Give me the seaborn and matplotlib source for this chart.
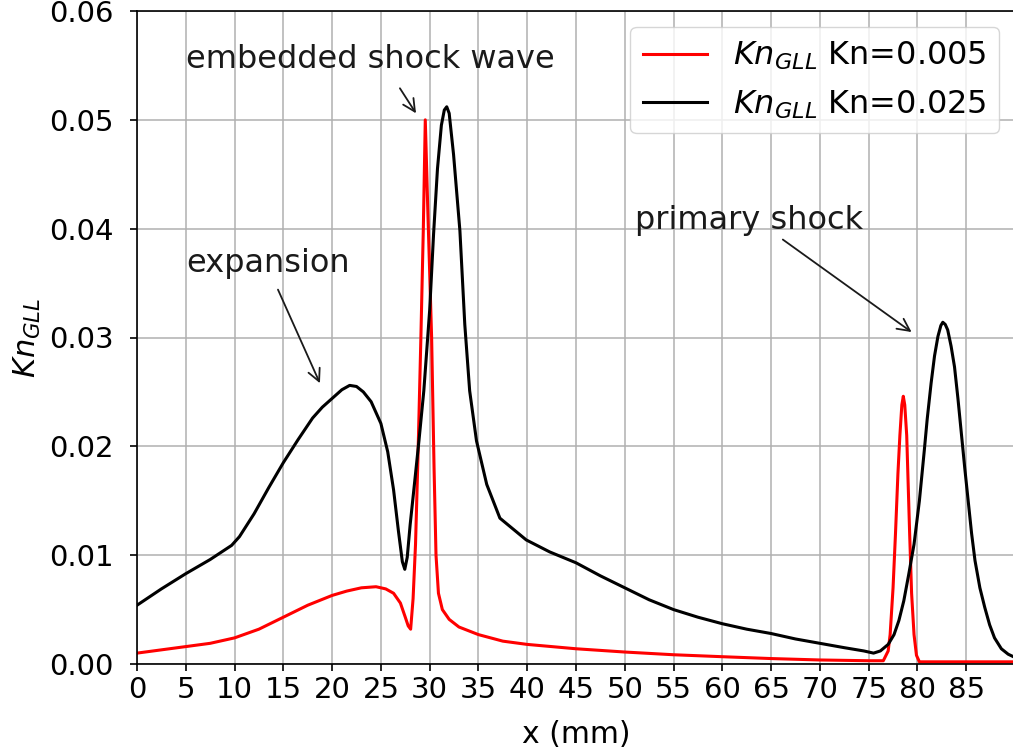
import matplotlib
matplotlib.use("Agg")
import matplotlib.pyplot as plt
import seaborn as sns
import pandas as pd

# ---- data ----
x_kn005 = [0, 2.5, 5, 7.5, 10, 12.5, 15, 17.5, 20, 21.5, 23, 24.5, 25.5, 26.3, 27, 27.5,
           27.8, 28.05, 28.3, 28.55, 28.8, 29.1, 29.35, 29.55, 29.8, 30.2, 30.45, 30.65,
           30.9, 31.3, 32.0, 33.0, 35, 37.5, 40, 45, 50, 55, 60, 65, 70, 75, 76.5, 77.0,
           77.2, 77.5, 77.75, 78.0, 78.2, 78.4, 78.55, 78.7, 78.9, 79.05, 79.2, 79.4,
           79.65, 79.9, 80.2, 85, 90]
y_kn005 = [0.0010, 0.0013, 0.0016, 0.0019, 0.0024, 0.0032, 0.0043, 0.0054, 0.0063, 0.0067,
           0.0070, 0.0071, 0.0069, 0.0065, 0.0056, 0.0043, 0.0035, 0.0032, 0.0060, 0.0110,
           0.0190, 0.0300, 0.0400, 0.0500, 0.0420, 0.0300, 0.0180, 0.0100, 0.0065, 0.0050,
           0.0041, 0.0034, 0.0027, 0.0021, 0.0018, 0.0014, 0.0011, 0.00085, 0.00067, 0.0005,
           0.00037, 0.0003, 0.0003, 0.0012, 0.0027, 0.0070, 0.0120, 0.0175, 0.0210, 0.0238,
           0.0246, 0.0238, 0.0210, 0.0165, 0.0120, 0.0065, 0.0027, 0.0008, 0.0002, 0.0002,
           0.0002]

x_kn025 = [0, 2.5, 5, 7.5, 9.7, 10.5, 12, 13.5, 15, 16.5, 18, 19, 20, 21, 21.8, 22.5, 23.2,
           24, 25, 25.7, 26.3, 26.8, 27.2, 27.45, 27.7, 28, 28.4, 28.9, 29.4, 30, 30.4, 30.8,
           31.2, 31.5, 31.75, 32.0, 32.45, 33.1, 33.6, 34.1, 34.8, 35.85, 37.2, 39.9, 42.3,
           45, 47.5, 50, 52.5, 55, 57.5, 60, 62.5, 65, 67.5, 70, 72.5, 74.5, 75.5, 76.2, 77,
           77.6, 78.1, 78.6, 79.1, 79.65, 80.2, 80.7, 81.0, 81.4, 81.75, 82.1, 82.4, 82.6,
           82.85, 83.1, 83.45, 83.8, 84.15, 84.5, 84.85, 85.2, 85.55, 85.9, 86.4, 86.9, 87.4,
           87.9, 88.6, 89.3, 90]
y_kn025 = [0.0054, 0.0069, 0.0083, 0.0096, 0.0109, 0.0117, 0.0138, 0.0162, 0.0185, 0.0206,
           0.0226, 0.0236, 0.0244, 0.0252, 0.0256, 0.0255, 0.0250, 0.0241, 0.0221, 0.0195,
           0.0160, 0.0122, 0.0094, 0.0087, 0.0098, 0.0128, 0.0162, 0.0205, 0.0251, 0.0325,
           0.0395, 0.0455, 0.0495, 0.0509, 0.0512, 0.0506, 0.0468, 0.0398, 0.0312, 0.0251,
           0.0205, 0.0165, 0.0134, 0.0114, 0.0103, 0.0093, 0.0081, 0.0070, 0.0059, 0.0050,
           0.0043, 0.0037, 0.0032, 0.0028, 0.0023, 0.0019, 0.0015, 0.0012, 0.0010, 0.0012,
           0.0018, 0.0027, 0.0040, 0.0058, 0.0082, 0.0110, 0.0150, 0.0196, 0.0225, 0.0258,
           0.0283, 0.0301, 0.0311, 0.0314, 0.0312, 0.0307, 0.0292, 0.0273, 0.0244, 0.0212,
           0.0180, 0.0150, 0.0120, 0.0095, 0.0070, 0.0052, 0.0036, 0.0024, 0.0014, 0.0009,
           0.0006]

series_labels = [r"$Kn_{GLL}$ Kn=0.005", r"$Kn_{GLL}$ Kn=0.025"]
series_colors = ["#ff0000", "#000000"]
x_ticks = list(range(0, 90, 5))
y_ticks = [0.00, 0.01, 0.02, 0.03, 0.04, 0.05, 0.06]

df = pd.concat([
    pd.DataFrame({"x": x_kn005, "y": y_kn005, "series": series_labels[0]}),
    pd.DataFrame({"x": x_kn025, "y": y_kn025, "series": series_labels[1]}),
], ignore_index=True)

plt.rcParams.update({
    "font.family": ["DejaVu Sans"],
    "font.size": 21,
    "axes.linewidth": 1.2,
    "xtick.major.size": 5,
    "ytick.major.size": 5,
    "xtick.major.width": 1.2,
    "ytick.major.width": 1.2,
})

fig = plt.figure(figsize=(10.13, 7.55), dpi=100)
ax = fig.add_axes([137 / 1013, 1 - 664 / 755, (1015 - 137) / 1013, (664 - 11) / 755])

sns.lineplot(data=df, x="x", y="y", hue="series", hue_order=series_labels,
             palette=dict(zip(series_labels, series_colors)), estimator=None,
             sort=False, linewidth=2.2, ax=ax)

ax.set_xlim(0, 90)
ax.set_ylim(0, 0.06)
ax.set_xticks(x_ticks)
ax.set_yticks(y_ticks)
ax.set_yticklabels([f"{v:.2f}" for v in y_ticks])
ax.tick_params(axis="both", labelsize=21)
ax.tick_params(axis="y", pad=12)
ax.tick_params(axis="x", pad=4)
ax.grid(True, color="#b0b0b0", linewidth=1.1)
ax.set_axisbelow(True)
ax.set_xlabel("x (mm)", fontsize=21.5, labelpad=11)
ax.set_ylabel(r"$Kn_{GLL}$", fontsize=22, labelpad=4)

leg = ax.legend(loc="upper right", fontsize=23, frameon=True)
leg.set_title(None)

arrow = dict(arrowstyle="->", color="#1a1a1a", lw=1.3, mutation_scale=22,
             shrinkA=0, shrinkB=0)
ax.text(5, 0.0548, "embedded shock wave", fontsize=23, color="#1a1a1a")
ax.annotate("", xy=(28.6, 0.0506), xytext=(26.95, 0.0529), arrowprops=arrow)
ax.text(5, 0.0360, "expansion", fontsize=23, color="#1a1a1a")
ax.annotate("", xy=(18.75, 0.0258), xytext=(14.45, 0.0344), arrowprops=arrow)
ax.text(51, 0.0400, "primary shock", fontsize=23, color="#1a1a1a")
ax.annotate("", xy=(79.4, 0.0305), xytext=(66.2, 0.0390), arrowprops=arrow)

fig.savefig("out.png", dpi=100)
